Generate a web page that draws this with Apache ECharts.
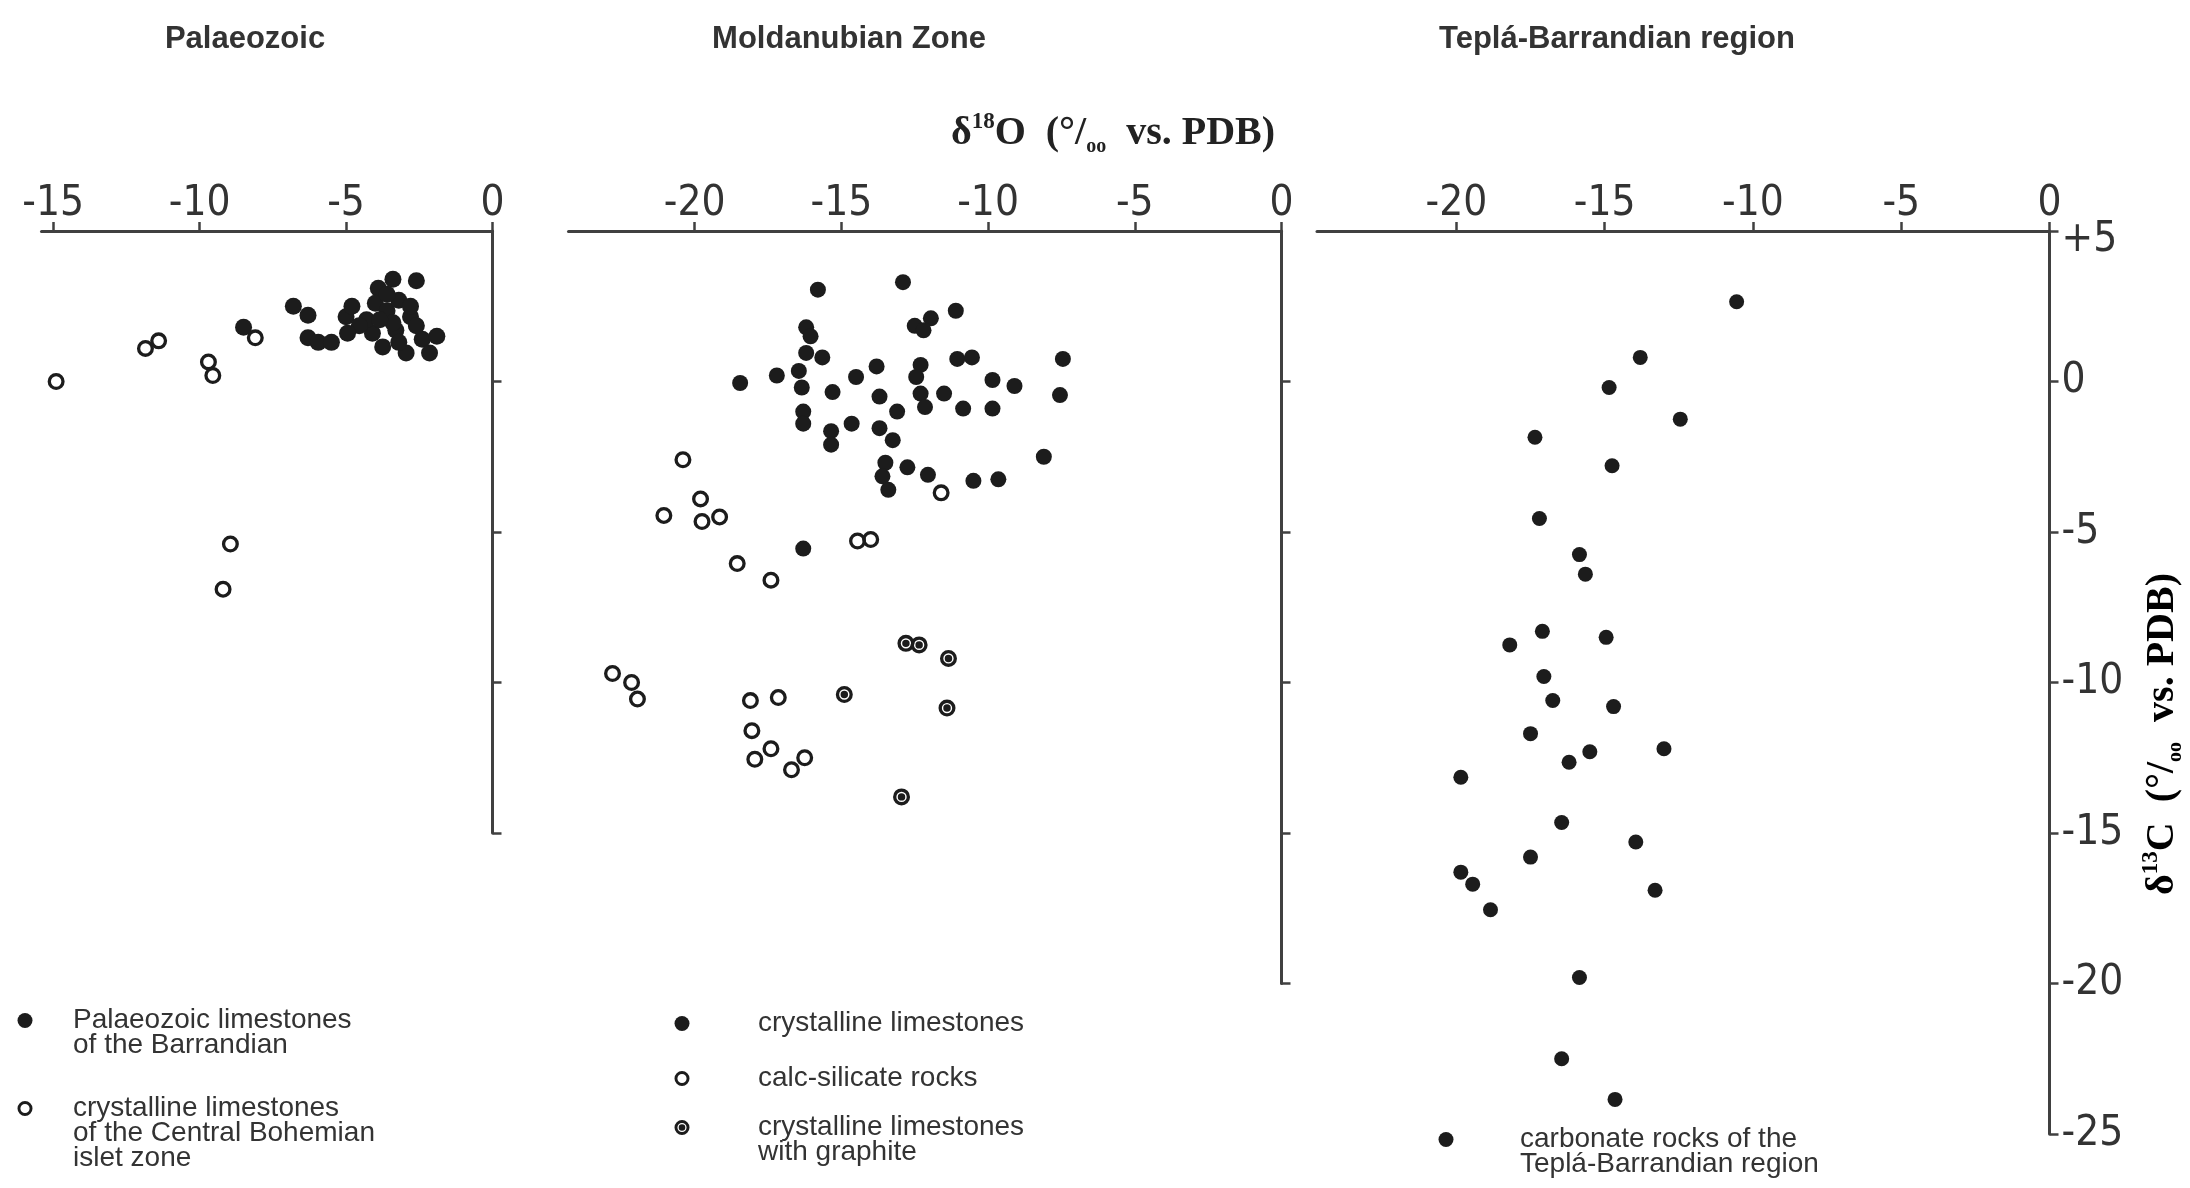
<!DOCTYPE html>
<html><head><meta charset="utf-8">
<script src="https://cdn.jsdelivr.net/npm/echarts@6/dist/echarts.min.js"></script>
<style>html,body{margin:0;padding:0;background:#fff}#c{width:2190px;height:1188px}</style>
</head><body><div id="c"></div>
<script>
// ---------- data (δ18O, δ13C) ----------
const p1Barrandian = [[-8.5,1.8],[-6.8,2.5],[-6.3,2.2],[-6.3,1.45],[-5.95,1.3],[-5.5,1.3],[-5.0,2.15],[-4.8,2.5],[-3.9,3.1],[-3.4,3.4],[-2.6,3.35],[-4.0,2.6],[-3.6,2.35],[-3.2,2.7],[-2.8,2.15],[-4.1,1.6],[-3.75,1.15],[-3.3,1.7],[-2.95,0.95],[-2.8,2.5],[-2.4,1.4],[-2.15,0.95],[-1.9,1.5],[-3.4,1.95],[-4.3,2.05],[-3.6,2.9],[-4.55,1.85],[-2.6,1.85],[-3.2,1.3],[-3.85,2.05],[-4.95,1.6]];
const p1CentralBohemian = [[-14.9,0.0],[-11.85,1.1],[-11.4,1.35],[-9.7,0.65],[-9.55,0.2],[-8.1,1.45],[-8.95,-5.4],[-9.2,-6.9]];
const p2CrystallineLimestones = [[-15.8,3.05],[-12.9,3.3],[-11.1,2.35],[-11.95,2.1],[-12.5,1.85],[-12.2,1.7],[-16.2,1.8],[-16.05,1.5],[-16.2,0.95],[-15.65,0.8],[-17.2,0.2],[-18.45,-0.05],[-16.45,0.35],[-16.35,-0.2],[-15.3,-0.35],[-14.5,0.15],[-13.8,0.5],[-13.7,-0.5],[-12.3,0.55],[-12.45,0.15],[-12.3,-0.4],[-12.15,-0.85],[-11.5,-0.4],[-11.05,0.75],[-10.55,0.8],[-10.85,-0.9],[-9.85,0.05],[-9.1,-0.15],[-9.85,-0.9],[-7.45,0.75],[-7.55,-0.45],[-13.1,-1.0],[-14.65,-1.4],[-16.3,-1.0],[-16.3,-1.4],[-15.35,-1.65],[-15.35,-2.1],[-13.7,-1.55],[-13.25,-1.95],[-13.5,-2.7],[-13.6,-3.15],[-13.4,-3.6],[-12.75,-2.85],[-12.05,-3.1],[-10.5,-3.3],[-9.65,-3.25],[-8.1,-2.5],[-16.3,-5.55]];
const p2CalcSilicate = [[-20.4,-2.6],[-19.8,-3.9],[-19.15,-4.5],[-21.05,-4.45],[-19.75,-4.65],[-11.6,-3.7],[-14.45,-5.3],[-14.0,-5.25],[-18.55,-6.05],[-17.4,-6.6],[-22.8,-9.7],[-22.15,-10.0],[-21.95,-10.55],[-18.1,-10.6],[-17.15,-10.5],[-18.05,-11.6],[-17.4,-12.2],[-17.95,-12.55],[-16.25,-12.5],[-16.7,-12.9]];
const p2Graphite = [[-12.8,-8.7],[-12.35,-8.75],[-11.35,-9.2],[-14.9,-10.4],[-11.4,-10.85],[-12.95,-13.8]];
const p3TeplaBarrandian = [[-10.55,2.65],[-13.8,0.8],[-14.85,-0.2],[-12.45,-1.25],[-17.35,-1.85],[-14.75,-2.8],[-17.2,-4.55],[-15.85,-5.75],[-15.65,-6.4],[-17.1,-8.3],[-14.95,-8.5],[-18.2,-8.75],[-17.05,-9.8],[-16.75,-10.6],[-14.7,-10.8],[-17.5,-11.7],[-16.2,-12.65],[-15.5,-12.3],[-13.0,-12.2],[-19.85,-13.15],[-16.45,-14.65],[-13.95,-15.3],[-17.5,-15.8],[-19.85,-16.3],[-19.45,-16.7],[-18.85,-17.55],[-13.3,-16.9],[-15.85,-19.8],[-16.45,-22.5],[-14.65,-23.85]];

// ---------- ticks / labels ----------
const p1XTicks = [-15,-10,-5,0];
const p2XTicks = [-20,-15,-10,-5,0];
const p3XTicks = [-20,-15,-10,-5,0];
const p1YTicks = [0,-5,-10,-15];
const p2YTicks = [0,-5,-10,-15,-20];
const p3YTicks = [5,0,-5,-10,-15,-20,-25];
const panelTitles = ['Palaeozoic','Moldanubian Zone','Teplá-Barrandian region'];
const seriesNames = ['Palaeozoic limestones of the Barrandian','crystalline limestones of the Central Bohemian islet zone','crystalline limestones','calc-silicate rocks','crystalline limestones with graphite','carbonate rocks of the Teplá-Barrandian region'];
const legendLines = [
  ['Palaeozoic limestones','of the Barrandian'],
  ['crystalline limestones','of the Central Bohemian','islet zone'],
  ['crystalline limestones'],
  ['calc-silicate rocks'],
  ['crystalline limestones','with graphite'],
  ['carbonate rocks of the','Teplá-Barrandian region']
];

// ---------- style ----------
const AX = '#404040', TXT = '#333333', DOT = '#1c1c1c';
const SANS = 'Liberation Sans';
const NARROW = "'Liberation Sans Narrow', 'DejaVu Sans Condensed', sans-serif";
const SERIF = 'Liberation Serif';
const RING = 'path://M0,-10A10,10,0,1,1,0,10A10,10,0,1,1,0,-10ZM0,-6.1A6.1,6.1,0,1,0,0,6.1A6.1,6.1,0,1,0,0,-6.1Z';
const RING_DOT = RING + 'M0,-4.4A4.4,4.4,0,1,1,0,4.4A4.4,4.4,0,1,1,0,-4.4Z';
const fmt = v => v > 0 ? '{low|+' + v + '}' : (v < 0 ? '-' + Math.abs(v) : '0');
const LH = 25;

function xAx(gi, min, ticks) {
  return {type:'value', gridIndex:gi, position:'top', min:min, max:0,
    axisLine:{onZero:false, lineStyle:{color:AX, width:3}},
    axisTick:{customValues:ticks, length:9, lineStyle:{color:AX, width:2.5}},
    axisLabel:{customValues:ticks, margin:6, fontFamily:NARROW, fontSize:42, color:TXT, formatter:fmt},
    splitLine:{show:false}};
}
function yAx(gi, min, ticks, showLabels) {
  return {type:'value', gridIndex:gi, position:'right', min:min, max:5,
    axisLine:{onZero:false, lineStyle:{color:AX, width:3}},
    axisTick:{customValues:ticks, length:9, lineStyle:{color:AX, width:2.5}},
    axisLabel:{show:showLabels, customValues:ticks, margin:12, fontFamily:NARROW, fontSize:42, color:TXT, formatter:fmt,
      rich:{low:{fontFamily:NARROW, fontSize:42, color:TXT, padding:[18,0,0,0]}}},
    splitLine:{show:false}};
}
function sc(i, gi, data, symbol, size) {
  return {type:'scatter', name:seriesNames[i], xAxisIndex:gi, yAxisIndex:gi, data:data,
    symbol:symbol, symbolSize:size, itemStyle:{color:DOT, opacity:1}, silent:true};
}
// one legend per entry; blank lines put the first text line level with the symbol
function lg(i, left, iconY, padL) {
  const n = legendLines[i].length;
  return {data:[seriesNames[i]], left:left, top:iconY - (2*n-1)*LH/2, orient:'vertical', padding:0,
    itemWidth:15, itemHeight:15, selectedMode:false,
    formatter: () => '\n'.repeat(n-1) + legendLines[i].join('\n'),
    textStyle:{fontFamily:SANS, fontSize:28, color:TXT, lineHeight:LH, padding:[0, 0, 0, padL]}};
}
const serifRich = {
  a:{fontFamily:SERIF, fontWeight:'bold', fontSize:40, color:'#222', lineHeight:46},
  s:{fontFamily:SERIF, fontWeight:'bold', fontSize:23, color:'#222', verticalAlign:'top', lineHeight:46},
  b:{fontFamily:SERIF, fontWeight:'bold', fontSize:20, color:'#222', verticalAlign:'bottom', lineHeight:40}
};
const titleStyle = {fontFamily:SANS, fontWeight:'bold', fontSize:31, color:TXT};

const option = {
  animation:false,
  backgroundColor:'#fff',
  title:[
    {text:panelTitles[0], left:240, top:19, textAlign:'center', textStyle:titleStyle},
    {text:panelTitles[1], left:844, top:19, textAlign:'center', textStyle:titleStyle},
    {text:panelTitles[2], left:1612, top:19, textAlign:'center', textStyle:titleStyle},
    {text:'{a|δ}{s|18}{a|O  (°/}{b|oo}{a|  vs. PDB)}', left:1108, top:106, textAlign:'center', textStyle:{rich:serifRich}}
  ],
  grid:[
    {left:41.5, top:231, width:451, height:602, containLabel:false, outerBoundsMode:'none'},
    {left:568.5, top:231, width:713, height:752.5, containLabel:false, outerBoundsMode:'none'},
    {left:1317, top:231, width:732.5, height:903, containLabel:false, outerBoundsMode:'none'}
  ],
  xAxis:[xAx(0,-15.4,p1XTicks), xAx(1,-24.3,p2XTicks), xAx(2,-24.7,p3XTicks)],
  yAxis:[yAx(0,-15,p1YTicks,false), yAx(1,-20,p2YTicks,false), yAx(2,-25,p3YTicks,true)],
  legend:[
    lg(0, 17.5, 1019, 35.5),
    lg(1, 17.5, 1107, 35.5),
    lg(2, 674.5, 1022, 63.5),
    lg(3, 674.5, 1077, 63.5),
    lg(4, 674.5, 1126, 63.5),
    lg(5, 1438.5, 1138, 61.5)
  ],
  graphic:[
    {type:'text', x:2163, y:734, rotation:Math.PI/2,
     style:{text:'{a|δ}{s|13}{a|C  (°/}{b|oo}{a|  vs. PDB)}', rich:serifRich, align:'center', verticalAlign:'middle'}}
  ],
  series:[
    sc(0,0,p1Barrandian,'circle',17),
    sc(1,0,p1CentralBohemian,RING,17),
    sc(2,1,p2CrystallineLimestones,'circle',16),
    sc(3,1,p2CalcSilicate,RING,17),
    sc(4,1,p2Graphite,RING_DOT,17),
    sc(5,2,p3TeplaBarrandian,'circle',15)
  ]
};
const chart = echarts.init(document.getElementById('c'), null, {renderer:'canvas'});
chart.setOption(option);
</script></body></html>
